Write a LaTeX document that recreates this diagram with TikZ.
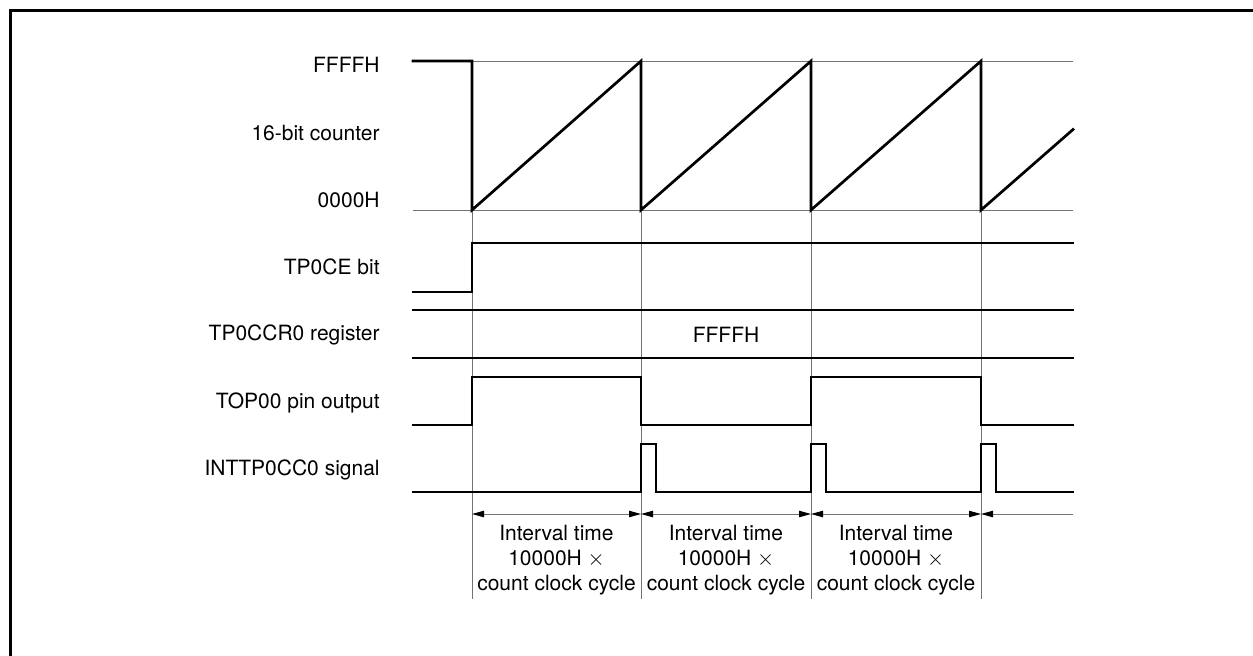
\documentclass[tikz,border=0pt]{standalone}
\usepackage{fontspec}
\setmainfont{TeX Gyre Heros}
\usetikzlibrary{arrows.meta}
\newcommand\diagfont{\fontsize{10.5}{12.5}\selectfont}
\begin{document}
\begin{tikzpicture}[x=0.5pt,y=-0.5pt,
  sig/.style={line width=1.35pt, line join=miter, line cap=rect},
  gridline/.style={line width=0.5pt, draw=black!55},
  dim/.style={line width=0.5pt, draw=black!55, >={Triangle[length=6pt,width=3.2pt,color=black]}},
  lbl/.style={anchor=east, inner sep=0pt, font=\diagfont},
  txt/.style={inner sep=0pt, font=\diagfont, align=center}]
\useasboundingbox (0,0) rectangle (1253,655);
% frame
\draw[line width=1.5pt] (10.5,656) -- (10.5,10.5) -- (1254,10.5);
% grid lines
\draw[gridline] (472,61) -- (1073,61);
\draw[gridline] (413,210) -- (1073,210);
\foreach \x in {472,641,811,981} \draw[gridline] (\x,61) -- (\x,599);
% labels
\node[lbl] (lff) at (380,64.5) {FFFFH};
\node[lbl] (lcnt) at (380,133) {16-bit counter};
\node[lbl] (l00) at (380,200) {0000H};
\node[lbl] (lce) at (380,267) {TP0CE bit};
\node[lbl] (lccr) at (380,335) {TP0CCR0 register};
\node[lbl] (ltop) at (380,403) {TOP00 pin output};
\node[lbl] (lint) at (380,470) {INTTP0CC0 signal};
% counter
\draw[sig] (413,61) -- (472,61) -- (472,210) -- (641,61) -- (641,210) -- (811,61) -- (811,210) -- (981,61) -- (981,210) -- (1073,129.5);
% TP0CE
\draw[sig] (413,292) -- (472,292) -- (472,243) -- (1073,243);
% TP0CCR0
\draw[sig] (413,310) -- (1073,310);
\draw[sig] (413,358) -- (1073,358);
\node[txt] (vff) at (726,335) {FFFFH};
% TOP00
\draw[sig] (413,425) -- (472,425) -- (472,377) -- (641,377) -- (641,425) -- (811,425) -- (811,377) -- (981,377) -- (981,425) -- (1073,425);
% INTTP0CC0
\draw[sig] (413,492) -- (641,492) -- (641,444) -- (656,444) -- (656,492) -- (811,492) -- (811,444) -- (826,444) -- (826,492) -- (981,492) -- (981,444) -- (996,444) -- (996,492) -- (1073,492);
% dimension arrows
\coordinate (t0) at (472,514);
\coordinate (t1) at (641,514);
\coordinate (t2) at (811,514);
\coordinate (t3) at (981,514);
\coordinate (tend) at (1073,514);
\draw[dim,<->] (t0) -- (t1);
\draw[dim,<->] (t1) -- (t2);
\draw[dim,<->] (t2) -- (t3);
\draw[dim,<-] (t3) -- (tend);
\foreach \c/\n in {556.5/i1,726/i2,896/i3}
  \node[txt] (\n) at (\c,560) {Interval time\\10000H $\times$\\count clock cycle};
\end{tikzpicture}
\end{document}
